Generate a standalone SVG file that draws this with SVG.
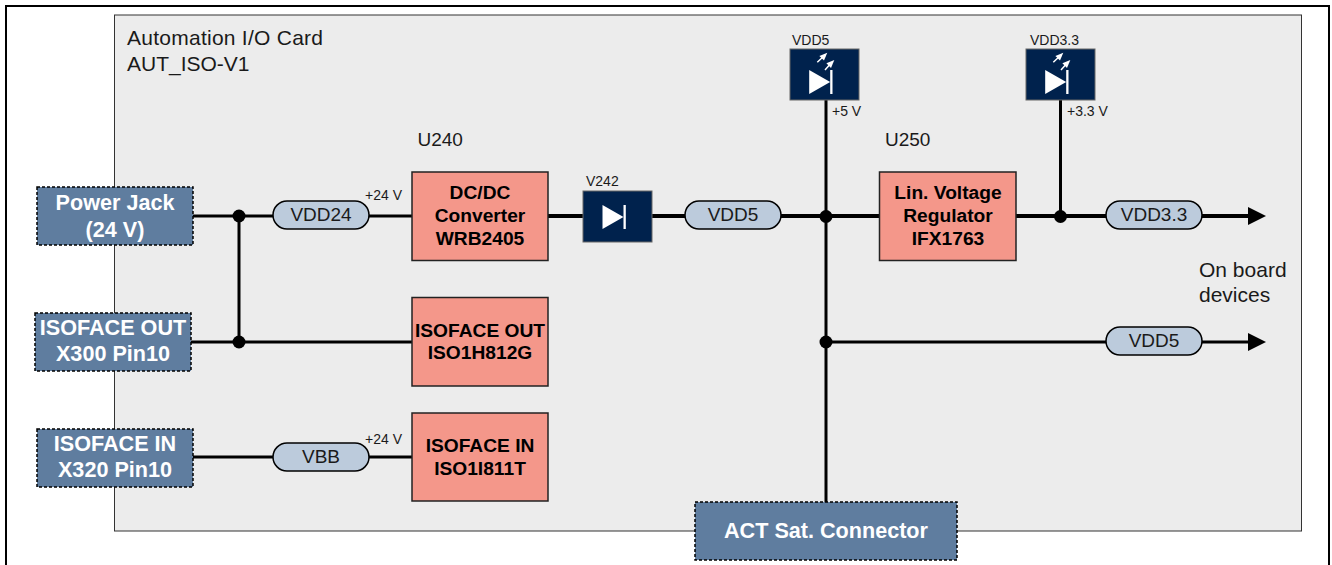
<svg xmlns="http://www.w3.org/2000/svg" width="1332" height="565" viewBox="0 0 1332 565">
<style>
text{font-family:"Liberation Sans",Arial,sans-serif;fill:#000}
.w{fill:#fff;font-weight:bold;font-size:21.600px;text-anchor:middle}
.b{font-weight:bold;font-size:19.200px;text-anchor:middle}
.t{font-size:21px;fill:#1a1a1a}
.u{font-size:19px;fill:#1a1a1a}
.s{font-size:14px;fill:#1a1a1a}
.p{font-size:19px;text-anchor:middle;fill:#1a1a1a}
.c{fill:#5f7d9f;stroke:#000;stroke-width:1.5;stroke-dasharray:3 2}
.r{fill:#f4978a;stroke:#222;stroke-width:1.5}
.pill{fill:#bccbdc;stroke:#000;stroke-width:1.5}
.d{fill:#00224d;stroke:#666;stroke-width:1}
.l{fill:none;stroke:#000;stroke-width:3}
.h{fill:none;stroke:#000;stroke-width:4}
.g{fill:#fff}
.gl{stroke:#fff;stroke-width:1.500;fill:none}
</style>
<defs>
<g id="diode"><polygon class="g" points="-11.500,-12 9.500,0 -11.500,12"/><rect class="g" x="9.500" y="-12" width="2.300" height="24"/></g>
<g id="rays"><path class="gl" d="M-3.400,-19.700 L3,-25.700 M4.300,-12 L10,-18.400"/><polygon class="g" points="6.600,-29.300 3.300,-21.400 -1.300,-26"/><polygon class="g" points="13.600,-22 10.300,-14.100 5.700,-18.700"/></g>
<marker id="arr" markerUnits="userSpaceOnUse" markerWidth="19" markerHeight="19" refX="8" refY="9" orient="auto"><polygon points="0,0 18,9 0,18" fill="#000"/></marker>
</defs>
<path d="M6,565V6H1329V565" fill="none" stroke="#000" stroke-width="2"/>
<rect id="card" x="114.500" y="15" width="1187" height="516" fill="#ececec" stroke="#333" stroke-width="1"/>
<text class="t" x="127" y="45" textLength="196" lengthAdjust="spacing">Automation I/O Card</text>
<text class="t" x="127" y="71">AUT_ISO-V1</text>
<g id="connectors">
<path class="l" d="M192,216H412M239,216V342M190,342H413"/>
<path class="l" d="M192,457H412"/>
<path class="h" d="M548,216H583M652,216H880"/>
<path class="l" d="M826,100V502"/>
<path class="h" d="M1016,216H1256" marker-end="url(#arr)"/>
<path class="l" d="M826,342H1256" marker-end="url(#arr)"/>
<path class="l" d="M1060.500,100V216"/>
<circle cx="239" cy="216" r="6.500"/><circle cx="239" cy="342" r="6.500"/>
<circle cx="826" cy="216.500" r="6.500"/><circle cx="826" cy="342" r="6.500"/><circle cx="1060.500" cy="216.500" r="6.500"/>
</g>
<g id="jack"><rect class="c" x="37" y="187" width="156" height="58"/><text class="w" x="115" y="210">Power Jack</text><text class="w" x="115" y="237">(24 V)</text></g>
<g id="isoout-conn"><rect class="c" x="35" y="313" width="156" height="58"/><text class="w" x="113" y="335">ISOFACE OUT</text><text class="w" x="113" y="361">X300 Pin10</text></g>
<g id="isoin-conn"><rect class="c" x="37" y="429" width="156" height="58"/><text class="w" x="115" y="451">ISOFACE IN</text><text class="w" x="115" y="477">X320 Pin10</text></g>
<g id="act"><rect class="c" x="695" y="502" width="262" height="58"/><text class="w" x="826" y="538">ACT Sat. Connector</text></g>
<g id="u240"><text class="u" x="417.500" y="146">U240</text><rect class="r" x="412" y="172" width="136" height="88.500"/><text class="b" x="480" y="199">DC/DC</text><text class="b" x="480" y="222">Converter</text><text class="b" x="480" y="245">WRB2405</text></g>
<g id="isoout"><rect class="r" x="412" y="297.500" width="136" height="88.500"/><text class="b" x="480" y="337">ISOFACE OUT</text><text class="b" x="480" y="359">ISO1H812G</text></g>
<g id="isoin"><rect class="r" x="412" y="413" width="136" height="88"/><text class="b" x="480" y="452">ISOFACE IN</text><text class="b" x="480" y="475">ISO1I811T</text></g>
<g id="u250"><text class="u" x="885" y="146">U250</text><rect class="r" x="879.500" y="172" width="136.500" height="88.500"/><text class="b" x="948" y="199">Lin. Voltage</text><text class="b" x="948" y="222">Regulator</text><text class="b" x="948" y="245">IFX1763</text></g>
<g id="v242"><text class="s" x="586" y="186">V242</text><rect class="d" x="583" y="191" width="69" height="51"/><use href="#diode" x="614" y="217"/></g>
<g id="led5"><text class="s" x="792" y="45">VDD5</text><rect class="d" x="790" y="49" width="69" height="51"/><use href="#diode" x="820.700" y="82"/><use href="#rays" x="820.700" y="82"/></g>
<g id="led33"><text class="s" x="1030" y="45">VDD3.3</text><rect class="d" x="1026" y="49" width="69" height="51"/><use href="#diode" x="1056.700" y="82"/><use href="#rays" x="1056.700" y="82"/></g>
<g id="p1"><rect class="pill" x="273" y="201" width="96" height="28" rx="14"/><text class="p" x="321" y="221">VDD24</text></g>
<g id="p2"><rect class="pill" x="685" y="201" width="96" height="28" rx="14"/><text class="p" x="733" y="221">VDD5</text></g>
<g id="p3"><rect class="pill" x="1106" y="201" width="96" height="28" rx="14"/><text class="p" x="1154" y="221">VDD3.3</text></g>
<g id="p4"><rect class="pill" x="1106" y="327" width="96" height="28" rx="14"/><text class="p" x="1154" y="347">VDD5</text></g>
<g id="p5"><rect class="pill" x="273" y="443" width="96" height="28" rx="14"/><text class="p" x="321" y="463">VBB</text></g>
<text class="s" x="365" y="200">+24 V</text>
<text class="s" x="365" y="444">+24 V</text>
<text class="s" x="832" y="116">+5 V</text>
<text class="s" x="1067" y="116">+3.3 V</text>
<text class="t" x="1199" y="277">On board</text>
<text class="t" x="1199" y="302">devices</text>
</svg>
